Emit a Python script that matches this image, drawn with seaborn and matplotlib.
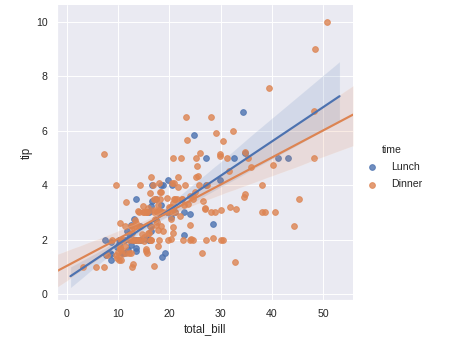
import numpy as np
import pandas as pd
import seaborn as sns
import matplotlib
matplotlib.use("Agg")
import matplotlib.pyplot as plt

# tips dataset (total_bill, tip) split by time
lunch_bill = [27.2, 22.76, 17.29, 19.44, 16.66, 10.07, 32.68, 15.98, 34.83, 13.03, 18.28, 24.71, 21.16,
              10.65, 12.43, 24.08, 11.69, 13.42, 14.26, 15.95, 12.48, 29.8, 8.52, 14.52, 11.38, 22.82,
              19.08, 20.27, 11.17, 12.26, 18.26, 8.51, 10.33, 14.15, 16.0, 13.16, 17.47, 34.3, 41.19,
              27.05, 16.43, 8.35, 18.64, 11.87, 9.78, 7.51,
              19.81, 28.44, 15.48, 16.58, 7.56, 10.34, 43.11, 13.0, 13.51, 18.71, 12.74, 13.0, 16.4,
              20.53, 16.47,
              12.16, 13.42, 8.58, 15.98, 13.42, 16.27, 10.09]
lunch_tip = [4.0, 3.0, 2.71, 3.0, 3.4, 1.83, 5.0, 2.03, 5.17, 2.0, 4.0, 5.85, 3.0,
             1.5, 1.8, 2.92, 2.31, 1.68, 2.5, 2.0, 2.52, 4.2, 1.48, 2.0, 2.0, 2.18,
             1.5, 2.83, 1.5, 2.0, 3.25, 1.25, 2.0, 2.0, 2.0, 2.75, 3.5, 6.7, 5.0,
             5.0, 2.3, 1.5, 1.36, 1.63, 1.73, 2.0,
             4.19, 2.56, 2.02, 4.0, 1.44, 2.0, 5.0, 2.0, 2.0, 4.0, 2.01, 2.0, 2.5,
             4.0, 3.23,
             2.2, 3.48, 1.92, 3.0, 1.58, 2.5, 2.0]

dinner_bill = [16.99, 10.34, 21.01, 23.68, 24.59, 25.29, 8.77, 26.88, 15.04, 14.78, 10.27, 35.26, 15.42,
               18.43, 14.83, 21.58, 10.33, 16.29, 16.97, 20.65, 17.92, 20.29, 15.77, 39.42, 19.82,
               17.81, 13.37, 12.69, 21.7, 19.65, 9.55, 18.35, 15.06, 20.69, 17.78, 24.06, 16.31,
               16.93, 18.69, 31.27, 16.04, 17.46, 13.94, 9.68, 30.4, 18.29, 22.23, 32.4, 28.55,
               18.04, 12.54, 10.29, 34.81, 9.94, 25.56, 19.49, 38.01, 26.41, 11.24, 48.27, 20.29,
               13.81, 11.02, 18.29, 17.59, 20.08, 16.45, 3.07, 20.23, 15.01, 12.02, 17.07, 26.86,
               25.28, 14.73, 10.51, 17.92,
               28.97, 22.49, 5.75, 16.32, 22.75, 40.17, 27.28, 12.03, 21.01, 12.46, 11.35, 15.38,
               44.3, 22.42, 20.92, 15.36, 20.49, 25.21, 18.24, 14.31, 14.0, 7.25, 38.07, 23.95,
               25.71, 17.31, 29.93,
               14.07, 13.13, 17.26, 24.55, 19.77, 29.85, 48.17, 25.0, 13.39, 16.49, 21.5, 12.66,
               16.21, 13.81, 17.51, 24.52, 20.76, 31.71, 10.59, 10.63, 50.81, 15.81, 7.25, 31.85,
               16.82, 32.9, 17.89, 14.48, 9.6, 34.63, 34.65, 23.33, 45.35, 23.17, 40.55, 20.69,
               20.9, 30.46, 18.15, 23.1, 15.69,
               26.59, 38.73, 24.27, 12.76, 30.06, 25.89, 48.33, 13.27, 28.17, 12.9, 28.15, 11.59,
               7.74, 30.14,
               20.45, 13.28, 22.12, 24.01, 15.69, 11.61, 10.77, 15.53, 10.07, 12.6, 32.83, 35.83,
               29.03, 27.18, 22.67, 17.82, 18.78]
dinner_tip = [1.01, 1.66, 3.5, 3.31, 3.61, 4.71, 2.0, 3.12, 1.96, 3.23, 1.71, 5.0, 1.57,
              3.0, 3.02, 3.92, 1.67, 3.71, 3.5, 3.35, 4.08, 2.75, 2.23, 7.58, 3.18,
              2.34, 2.0, 2.0, 4.3, 3.0, 1.45, 2.5, 3.0, 2.45, 3.27, 3.6, 2.0,
              3.07, 2.31, 5.0, 2.24, 2.54, 3.06, 1.32, 5.6, 3.0, 5.0, 6.0, 2.05,
              3.0, 2.5, 2.6, 5.2, 1.56, 4.34, 3.51, 3.0, 1.5, 1.76, 6.73, 3.21,
              2.0, 1.98, 3.76, 2.64, 3.15, 2.47, 1.0, 2.01, 2.09, 1.97, 3.0, 3.14,
              5.0, 2.2, 1.25, 3.08,
              3.0, 3.5, 1.0, 4.3, 3.25, 4.73, 4.0, 1.5, 3.0, 1.5, 2.5, 3.0,
              2.5, 3.48, 4.08, 1.64, 4.06, 4.29, 3.76, 4.0, 3.0, 1.0, 4.0, 2.55,
              4.0, 3.5, 5.07,
              2.5, 2.0, 2.74, 2.0, 2.0, 5.14, 5.0, 3.75, 2.61, 2.0, 3.5, 2.5,
              2.0, 2.0, 3.0, 3.48, 2.24, 4.5, 1.61, 2.0, 10.0, 3.16, 5.15, 3.18,
              4.0, 3.11, 2.0, 2.0, 4.0, 3.55, 3.68, 5.65, 3.5, 6.5, 3.0, 5.0,
              3.5, 2.0, 3.5, 4.0, 1.5,
              3.41, 3.0, 2.03, 2.23, 2.0, 5.16, 9.0, 2.5, 6.5, 1.1, 3.0, 1.5,
              1.44, 3.09,
              3.0, 2.72, 2.88, 2.0, 3.0, 3.39, 1.47, 3.0, 1.25, 1.0, 1.17, 4.67,
              5.92, 2.0, 2.0, 1.75, 3.0]

time_order = ["Lunch", "Dinner"]

df = pd.DataFrame({
    "total_bill": lunch_bill + dinner_bill,
    "tip": lunch_tip + dinner_tip,
    "time": pd.Categorical(["Lunch"] * len(lunch_bill) + ["Dinner"] * len(dinner_bill),
                           categories=time_order),
})

sns.set_theme(style="darkgrid")
plt.rcParams["font.family"] = ["Liberation Sans", "DejaVu Sans"]

palette = sns.color_palette("deep", 2)

g = sns.lmplot(data=df, x="total_bill", y="tip", hue="time", hue_order=time_order,
               palette=palette, fit_reg=False)
ax = g.ax
scatters = list(ax.collections)

# regression fits, extended to the axis limits (each drawn in turn)
for i, level in enumerate(time_order):
    sub = df[df["time"] == level]
    n_before = len(ax.collections)
    sns.regplot(data=sub, x="total_bill", y="tip", ax=ax, scatter=False,
                truncate=False, color=palette[i], seed=0)
    line = ax.lines[-1]
    if i == 0:
        line.sticky_edges.x.clear()
    scatters[i].set_zorder(1 + 0.02 * i)
    for c in ax.collections[n_before:]:
        c.set_zorder(1.01 + 0.02 * i)

ax.set_ylim(-0.22, 10.61)
ax.set_xlabel("total_bill")
ax.set_ylabel("tip")

W, H = 455, 346
dpi = 69.2
fig = g.figure
fig.set_size_inches(W / dpi, H / dpi)
ax.set_position([57 / W, 1 - 300 / H, (353 - 57) / W, (300 - 5) / H])

# rebuild legend in the figure margin
old = g._legend
handles = old.legend_handles
labels = [t.get_text() for t in old.get_texts()]
label_size = old.get_texts()[0].get_fontsize()
old.remove()
leg = fig.legend(handles, labels, loc="center right",
                 bbox_to_anchor=(432 / W, 0.5 + 6 / H), bbox_transform=fig.transFigure,
                 frameon=False, labelspacing=0.7, fontsize=label_size)
leg.set_title("time", prop={"size": label_size})
g._legend = leg

fig.savefig("out.png", dpi=dpi)
